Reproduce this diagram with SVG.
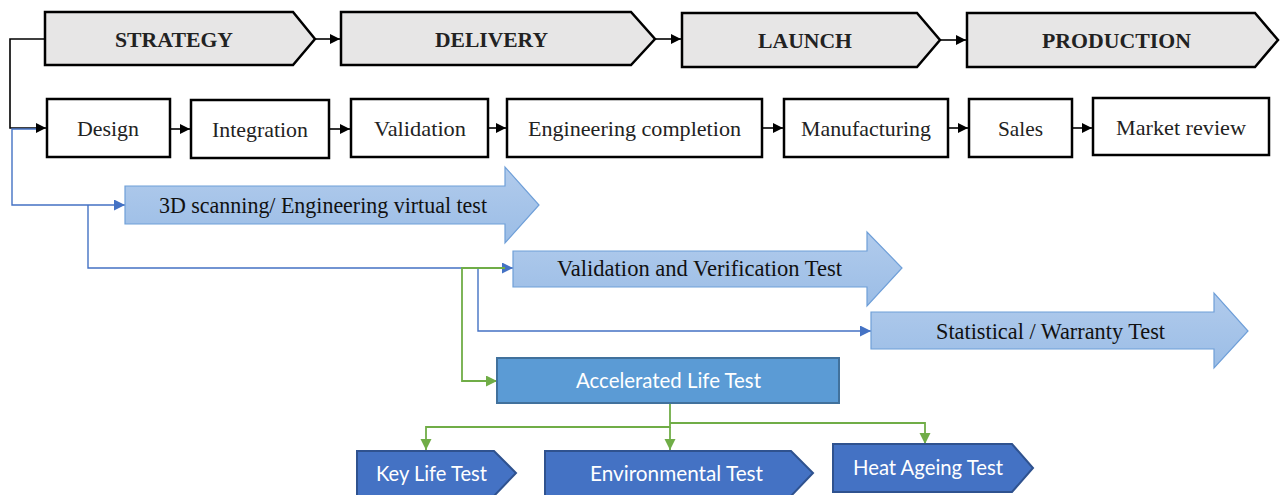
<svg xmlns="http://www.w3.org/2000/svg" width="1284" height="495" viewBox="0 0 1284 495">
<style>
.phase{fill:#e7e6e6;stroke:#000;stroke-width:2.5}
.phase-t{font-family:"Liberation Serif",serif;font-weight:bold;font-size:22px;fill:#222;text-anchor:start}
.box{fill:#fff;stroke:#000;stroke-width:2.5}
.box-t{font-family:"Liberation Serif",serif;font-size:22px;fill:#222}
.barrow{fill:url(#lb);stroke:#6f9fd8;stroke-width:1.2}
.barrow-t{font-family:"Liberation Serif",serif;font-size:24px;fill:#111}
.alt{fill:#5b9bd5;stroke:#41719c;stroke-width:2}
.sub{fill:#4472c4;stroke:#2f528f;stroke-width:2}
.w-t{font-family:Lato,"Open Sans",sans-serif;font-size:21px;fill:#fff}
.kline{fill:none;stroke:#000;stroke-width:1.6}
.bline{fill:none;stroke:#4472c4;stroke-width:1.4}
.gline{fill:none;stroke:#70ad47;stroke-width:1.8}
</style>
<defs>
<linearGradient id="lb" x1="0" y1="0" x2="0" y2="1">
<stop offset="0" stop-color="#b1cbec"/>
<stop offset="1" stop-color="#9bbde6"/>
</linearGradient>
<marker id="ak" markerUnits="userSpaceOnUse" markerWidth="11" markerHeight="11" refX="10" refY="5" orient="auto">
<path d="M0,0 L10,5 L0,10 Z" fill="#000"/>
</marker>
<marker id="ab" markerUnits="userSpaceOnUse" markerWidth="12" markerHeight="12" refX="11" refY="5.5" orient="auto">
<path d="M0,0 L11,5.5 L0,11 Z" fill="#4472c4"/>
</marker>
<marker id="ag" markerUnits="userSpaceOnUse" markerWidth="12" markerHeight="12" refX="11" refY="5.5" orient="auto">
<path d="M0,0 L11,5.5 L0,11 Z" fill="#70ad47"/>
</marker>
</defs>

<g id="connectors">
<line class="kline" x1="315" y1="39" x2="340" y2="39" marker-end="url(#ak)"/>
<line class="kline" x1="655" y1="39" x2="681" y2="39" marker-end="url(#ak)"/>
<line class="kline" x1="940" y1="40" x2="966" y2="40" marker-end="url(#ak)"/>
<path class="kline" d="M45,39 H10 V128 H46" marker-end="url(#ak)"/>
<line class="kline" x1="170" y1="129" x2="190" y2="129" marker-end="url(#ak)"/>
<line class="kline" x1="329" y1="129" x2="350" y2="129" marker-end="url(#ak)"/>
<line class="kline" x1="488" y1="128" x2="506" y2="128" marker-end="url(#ak)"/>
<line class="kline" x1="762" y1="128" x2="783" y2="128" marker-end="url(#ak)"/>
<line class="kline" x1="948" y1="128" x2="968" y2="128" marker-end="url(#ak)"/>
<line class="kline" x1="1072" y1="128" x2="1092" y2="128" marker-end="url(#ak)"/>
<path class="bline" d="M36,129 H12 V205 H125" marker-end="url(#ab)"/>
<path class="bline" d="M88,205 V268 H513" marker-end="url(#ab)"/>
<path class="bline" d="M478,268 V331 H871" marker-end="url(#ab)"/>
<path class="gline" d="M505,268 H462 V381 H497" marker-end="url(#ag)"/>
<path class="gline" d="M670,403 V427 H426 V450" marker-end="url(#ag)"/>
<path class="gline" d="M670,427 V450" marker-end="url(#ag)"/>
<path class="gline" d="M670,423 H925 V444" marker-end="url(#ag)"/>
</g>

<g id="strategy">
<path class="phase" d="M45,12 H293 L315,39 L293,65 H45 Z"/>
<text class="phase-t" x="115" y="47" textLength="118" lengthAdjust="spacingAndGlyphs">STRATEGY</text>
</g>
<g id="delivery">
<path class="phase" d="M341,12 H631 L655,39 L631,65 H341 Z"/>
<text class="phase-t" x="435" y="47" textLength="113" lengthAdjust="spacingAndGlyphs">DELIVERY</text>
</g>
<g id="launch">
<path class="phase" d="M682,13 H917 L940,40 L917,67 H682 Z"/>
<text class="phase-t" x="758" y="48" textLength="94" lengthAdjust="spacingAndGlyphs">LAUNCH</text>
</g>
<g id="production">
<path class="phase" d="M967,13 H1255 L1278,40 L1255,67 H967 Z"/>
<text class="phase-t" x="1042" y="48" textLength="149" lengthAdjust="spacingAndGlyphs">PRODUCTION</text>
</g>

<g id="design">
<rect class="box" x="47" y="99" width="123" height="58"/>
<text class="box-t" x="77" y="136" textLength="62" lengthAdjust="spacingAndGlyphs">Design</text>
</g>
<g id="integration">
<rect class="box" x="191" y="100" width="138" height="58"/>
<text class="box-t" x="212" y="137" textLength="96" lengthAdjust="spacingAndGlyphs">Integration</text>
</g>
<g id="validation">
<rect class="box" x="351" y="99" width="137" height="58"/>
<text class="box-t" x="374" y="136" textLength="92" lengthAdjust="spacingAndGlyphs">Validation</text>
</g>
<g id="engineering-completion">
<rect class="box" x="507" y="99" width="255" height="58"/>
<text class="box-t" x="528" y="136" textLength="213" lengthAdjust="spacingAndGlyphs">Engineering completion</text>
</g>
<g id="manufacturing">
<rect class="box" x="784" y="99" width="164" height="58"/>
<text class="box-t" x="801" y="136" textLength="130" lengthAdjust="spacingAndGlyphs">Manufacturing</text>
</g>
<g id="sales">
<rect class="box" x="969" y="99" width="103" height="58"/>
<text class="box-t" x="998" y="136" textLength="45" lengthAdjust="spacingAndGlyphs">Sales</text>
</g>
<g id="market-review">
<rect class="box" x="1093" y="98" width="176" height="57"/>
<text class="box-t" x="1116" y="135" textLength="130" lengthAdjust="spacingAndGlyphs">Market review</text>
</g>

<g id="scanning">
<path class="barrow" d="M125,186 H505 V167 L539,205 L505,243 V224 H125 Z"/>
<text class="barrow-t" x="159" y="213" textLength="328" lengthAdjust="spacingAndGlyphs">3D scanning/ Engineering virtual test</text>
</g>
<g id="vv-test">
<path class="barrow" d="M513,251 H867 V232 L902,268 L867,306 V287 H513 Z"/>
<text class="barrow-t" x="557" y="276" textLength="285" lengthAdjust="spacingAndGlyphs">Validation and Verification Test</text>
</g>
<g id="warranty-test">
<path class="barrow" d="M871,312 H1214 V293 L1248,331 L1214,368 V349 H871 Z"/>
<text class="barrow-t" x="936" y="339" textLength="229" lengthAdjust="spacingAndGlyphs">Statistical / Warranty Test</text>
</g>

<g id="alt">
<rect class="alt" x="497" y="358" width="342" height="45"/>
<text class="w-t" x="576" y="388" textLength="185" lengthAdjust="spacingAndGlyphs">Accelerated Life Test</text>
</g>
<g id="key-life">
<path class="sub" d="M357,451 H494 L516,473 L494,496 H357 Z"/>
<text class="w-t" x="376" y="481" textLength="111" lengthAdjust="spacingAndGlyphs">Key Life Test</text>
</g>
<g id="environmental">
<path class="sub" d="M545,451 H791 L813,473 L791,496 H545 Z"/>
<text class="w-t" x="590" y="481" textLength="173" lengthAdjust="spacingAndGlyphs">Environmental Test</text>
</g>
<g id="heat-ageing">
<path class="sub" d="M833,444 H1012 L1033,468 L1012,492 H833 Z"/>
<text class="w-t" x="853" y="475" textLength="150" lengthAdjust="spacingAndGlyphs">Heat Ageing Test</text>
</g>
</svg>
